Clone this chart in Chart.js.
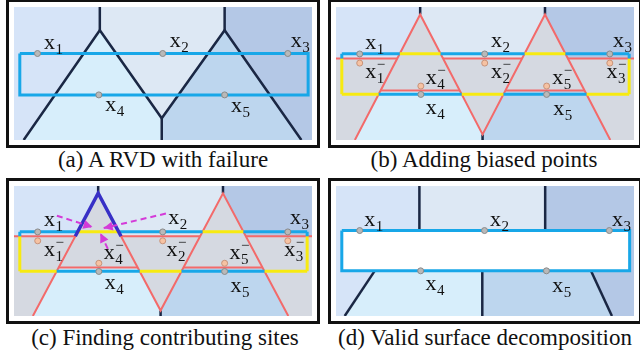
<!DOCTYPE html>
<html>
<head>
<meta charset="utf-8">
<script src="https://cdn.jsdelivr.net/npm/chart.js@4.4.1/dist/chart.umd.min.js"></script>
<style>
  html, body { margin: 0; padding: 0; background: #fff; }
  body { width: 640px; height: 358px; position: relative; overflow: hidden; font-family: "Liberation Serif", serif; }
  .panel { position: absolute; border: 3px solid #111; width: 308px; }
  .panel canvas { display: block; }
  .top { top: -1px; height: 143px; }
  .bottom { top: 178px; height: 140px; }
  .left { left: 6px; }
  .right { left: 328px; }
  .cap { position: absolute; width: 320px; text-align: center; font-size: 23px; line-height: 26px; color: #111; white-space: nowrap; }
</style>
</head>
<body>
<div class="panel top left"><canvas id="pa" width="308" height="143"></canvas></div>
<div class="panel top right"><canvas id="pb" width="308" height="143"></canvas></div>
<div class="panel bottom left"><canvas id="pc" width="308" height="140"></canvas></div>
<div class="panel bottom right"><canvas id="pd" width="308" height="140"></canvas></div>
<div class="cap" style="left:3px;top:147px">(a) A RVD with failure</div>
<div class="cap" style="left:324px;top:147px">(b) Adding biased points</div>
<div class="cap" style="left:5px;top:325px">(c) Finding contributing sites</div>
<div class="cap" style="left:325px;top:325px">(d) Valid surface decomposition</div>

<script>
// Panel coordinate frame: x to the right, y downwards, in panel units.
const X_MAX = 308, Y_MAX = 143;

// Cell colours of the five sites and of the biased-site cells
const COL_X1 = '#d6e4f8', COL_X2 = '#dde8f4', COL_X3 = '#b4c8e6';
const COL_X4 = '#d7eefb', COL_X5 = '#bdd6ee', COL_BIASED = '#d5d9e1';

// ---------- (a) restricted Voronoi diagram with failure ----------
const cellA1 = [[0,0],[88.7,0],[88.7,25],[10,143],[0,143]];
const cellA2 = [[88.7,0],[217.7,0],[217.7,25],[152.7,119.7],[88.7,25]];
const cellA3 = [[217.7,0],[308,0],[308,143],[297,143],[217.7,25]];
const cellA4 = [[88.7,25],[152.7,119.7],[152.7,143],[10,143]];
const cellA5 = [[217.7,25],[297,143],[152.7,143],[152.7,119.7]];
const edgesA = [
  [[88.7,0],[88.7,25]],
  [[217.7,0],[217.7,25]],
  [[10,143],[88.7,25],[152.7,119.7],[217.7,25],[297,143]],
  [[152.7,119.7],[152.7,143]]
];
const surfaceA = [[6,50],[304,50],[304,94.5],[6,94.5],[6,50]];
const sitesAX = [24.3, 153.7, 283, 87.7, 217.7];
const sitesAY = [50, 50, 50, 94.5, 94.5];
const labelsA = [
  ['1', 31, 44.7, false], ['2', 161, 43, false], ['3', 286, 42.5, false],
  ['4', 94.3, 112, false], ['5', 224.3, 113, false]
];

// ---------- (b)/(c) diagram after adding biased points ----------
const cellB1 = [[0,0],[87,0],[87,8],[63.35,55.3],[0,55.3]];
const cellB2 = [[87,0],[216,0],[216,8],[192.35,55.3],[110.65,55.3],[87,8]];
const cellB3 = [[216,0],[308,0],[308,55.3],[239.65,55.3],[216,8]];
const cellB4 = [[46.15,89.7],[127.85,89.7],[151.5,137],[151.5,143],[19.5,143]];
const cellB5 = [[175.15,89.7],[256.85,89.7],[283.5,143],[151.5,143],[151.5,137]];
const panelBox = [[0,0],[308,0],[308,143],[0,143]];
const bisectorsB = [
  [[19.5,143],[87,8],[151.5,137],[216,8],[283.5,143]],
  [[0,55.3],[63.35,55.3]], [[110.65,55.3],[192.35,55.3]], [[239.65,55.3],[308,55.3]],
  [[46.15,89.7],[127.85,89.7]], [[175.15,89.7],[256.85,89.7]]
];
const stubsB = [[[87,0],[87,8]], [[216,0],[216,8]], [[151.5,137],[151.5,143]]];
// surface boundary split by the cell it falls in
const surfBlueB = [
  [[6,50.3],[65.85,50.3]], [[108.15,50.3],[194.85,50.3]], [[237.15,50.3],[303,50.3]],
  [[44.15,93.7],[129.85,93.7]], [[173.15,93.7],[258.85,93.7]],
  [[6,50.3],[6,55.3]], [[303,50.3],[303,55.3]]
];
const surfYellowB = [
  [[65.85,50.3],[108.15,50.3]], [[194.85,50.3],[237.15,50.3]],
  [[6,93.7],[44.15,93.7]], [[129.85,93.7],[173.15,93.7]], [[258.85,93.7],[303,93.7]],
  [[6,55.3],[6,93.7]], [[303,55.3],[303,93.7]]
];
const sitesBX = [24.5, 153.7, 283, 87.7, 217.7];
const sitesBY = [50.5, 50.5, 50.5, 94, 94];
const biasedBX = [24.5, 153.7, 283, 87.7, 217.7];
const biasedBY = [60.3, 60.3, 60.3, 85, 85];
const labelsB = [
  ['1', 30.2, 44.7, false], ['2', 160.2, 43, false], ['3', 286.2, 43, false],
  ['4', 92.8, 114.7, false], ['5', 224.5, 116, false],
  ['1', 30.2, 76.3, true], ['2', 160.2, 76.3, true], ['3', 279.5, 76.3, true],
  ['4', 92.8, 83, true], ['5', 223.5, 83, true]
];
const labelsC = [
  ['1', 31, 43.9, false], ['2', 159.3, 42.2, false], ['3', 285.3, 42.2, false],
  ['4', 93.7, 113.7, false], ['5', 223.7, 116.1, false],
  ['1', 31, 76.9, true], ['2', 157.7, 76.9, true], ['3', 279.3, 76.9, true],
  ['4', 92.7, 80.4, true], ['5', 222.7, 80.4, true]
];
// (c) cell of x4^- reaching above the surface, and the sites pointing at it
const contributingEdge = [[63.35,55.3],[87,8],[110.65,55.3]];
const arrowsC = [
  [[44.3,32.7],[81,45.2]],
  [[157,30.3],[92.7,46.3]],
  [[97,69.1],[89.3,52.1]]
];

// ---------- (d) valid surface decomposition ----------
const cellD1 = [[0,0],[86.2,0],[86.2,49],[40,93.3],[9,143],[0,143]];
const cellD2 = [[86.2,0],[216.2,0],[216.2,49],[86.2,49]];
const cellD3 = [[216.2,0],[308,0],[308,143],[285.2,143],[263.5,93.3],[216.2,49]];
const cellD4 = [[40,93.3],[151.2,93.3],[151.2,143],[9,143]];
const cellD5 = [[151.2,93.3],[263.5,93.3],[285.2,143],[151.2,143]];
const edgesD = [
  [[86.2,0],[86.2,49]], [[216.2,0],[216.2,49]],
  [[40,93.3],[9,143]], [[151.2,93.3],[151.2,143]], [[263.5,93.3],[285.2,143]]
];
const surfaceD = [[6,49],[303.5,49],[303.5,93.3],[6,93.3],[6,49]];
const sitesDX = [24.5, 153.5, 282.5, 87.5, 217.5];
const sitesDY = [49, 49, 49, 93.3, 93.3];
const labelsD = [
  ['1', 29.2, 43.9, false], ['2', 159.2, 43.9, false], ['3', 285.2, 43.9, false],
  ['4', 92.5, 114.4, false], ['5', 223.5, 116.1, false]
];

// ---------- styles ----------
const NAVY = '#1a2744', RED = '#f36a6a', BLUE = '#18a7e8', YELLOW = '#f7ea10';
const VIOLET = '#3730c6', MAGENTA = '#d43bd8';

function pts(arr) { return arr.map(p => ({ x: p[0], y: p[1] })); }
function area(poly, color) {
  return { data: pts(poly.concat([poly[0]])), showLine: true, fill: 'shape',
    backgroundColor: color, borderColor: color, borderWidth: 1, pointRadius: 0, tension: 0 };
}
function path(line, color, width, dash) {
  return { data: pts(line), showLine: true, fill: false, borderColor: color,
    borderWidth: width, borderDash: dash || [], pointRadius: 0, tension: 0,
    borderCapStyle: 'butt', borderJoinStyle: 'miter' };
}
function dots(xs, ys, fillC, edgeC) {
  return { data: xs.map((x, i) => ({ x: x, y: ys[i] })), showLine: false,
    pointRadius: 3, pointBackgroundColor: fillC, pointBorderColor: edgeC, pointBorderWidth: 1 };
}

// draws the site names (x with subscript, optional bar) and arrow heads
function labelLayer(labels, arrows) {
  return {
    id: 'siteLabels',
    afterDatasetsDraw(chart) {
      const ctx = chart.ctx, sx = chart.scales.x, sy = chart.scales.y;
      ctx.save();
      ctx.fillStyle = MAGENTA;
      (arrows || []).forEach(a => {
        const x0 = sx.getPixelForValue(a[0][0]), y0 = sy.getPixelForValue(a[0][1]);
        const x1 = sx.getPixelForValue(a[1][0]), y1 = sy.getPixelForValue(a[1][1]);
        const ang = Math.atan2(y1 - y0, x1 - x0), L = 9, W = 4.5;
        ctx.beginPath();
        ctx.moveTo(x1, y1);
        ctx.lineTo(x1 - L * Math.cos(ang) + W * Math.sin(ang), y1 - L * Math.sin(ang) - W * Math.cos(ang));
        ctx.lineTo(x1 - L * Math.cos(ang) - W * Math.sin(ang), y1 - L * Math.sin(ang) + W * Math.cos(ang));
        ctx.closePath();
        ctx.fill();
      });
      ctx.fillStyle = '#111';
      ctx.textBaseline = 'alphabetic';
      labels.forEach(l => {
        const px = sx.getPixelForValue(l[1]), py = sy.getPixelForValue(l[2]);
        ctx.font = '22px "Liberation Serif"';
        ctx.fillText('x', px, py);
        const w = ctx.measureText('x').width;
        ctx.font = '15px "Liberation Serif"';
        ctx.fillText(l[0], px + w + 0.5, py + 5);
        if (l[3]) ctx.fillText('\u2212', px + w + 0.5, py - 9);
      });
      ctx.restore();
    }
  };
}

function makePanel(id, layers, labels, arrows) {
  layers.forEach((d, i) => { d.order = layers.length - i; });
  new Chart(document.getElementById(id), {
    type: 'scatter',
    data: { datasets: layers },
    options: {
      responsive: false, animation: false, devicePixelRatio: 1, events: [],
      layout: { padding: 0 },
      scales: {
        x: { type: 'linear', min: 0, max: X_MAX, display: false },
        y: { type: 'linear', min: 0, max: Y_MAX, reverse: true, display: false }
      },
      plugins: { legend: { display: false }, tooltip: { enabled: false } }
    },
    plugins: [labelLayer(labels, arrows)]
  });
}

// (a)
makePanel('pa', [
  area(cellA1, COL_X1), area(cellA2, COL_X2), area(cellA3, COL_X3),
  area(cellA4, COL_X4), area(cellA5, COL_X5),
  ...edgesA.map(e => path(e, NAVY, 2.5)),
  path(surfaceA, BLUE, 3),
  dots(sitesAX, sitesAY, '#b9b9b9', '#8a8a8a')
], labelsA);

// (b) and (c) share the biased diagram
function biasedLayers(extra) {
  return [
    area(panelBox, COL_BIASED),
    area(cellB1, COL_X1), area(cellB2, COL_X2), area(cellB3, COL_X3),
    area(cellB4, COL_X4), area(cellB5, COL_X5),
    ...stubsB.map(e => path(e, NAVY, 2.5)),
    ...bisectorsB.map(e => path(e, RED, 2)),
    ...surfYellowB.map(e => path(e, YELLOW, 3)),
    ...surfBlueB.map(e => path(e, BLUE, 3)),
    ...extra,
    dots(sitesBX, sitesBY, '#b9b9b9', '#8a8a8a'),
    dots(biasedBX, biasedBY, '#f6c2a2', '#c8937a')
  ];
}
makePanel('pb', biasedLayers([]), labelsB);
makePanel('pc', biasedLayers([
  path(contributingEdge, VIOLET, 3.5),
  ...arrowsC.map(a => path(a, MAGENTA, 2, [6, 4]))
]), labelsC, arrowsC);

// (d)
makePanel('pd', [
  area(cellD1, COL_X1), area(cellD2, COL_X2), area(cellD3, COL_X3),
  area(cellD4, COL_X4), area(cellD5, COL_X5),
  ...edgesD.map(e => path(e, NAVY, 2.5)),
  area(surfaceD, '#ffffff'),
  path(surfaceD, BLUE, 3),
  dots(sitesDX, sitesDY, '#b9b9b9', '#8a8a8a')
], labelsD);
</script>
</body>
</html>
